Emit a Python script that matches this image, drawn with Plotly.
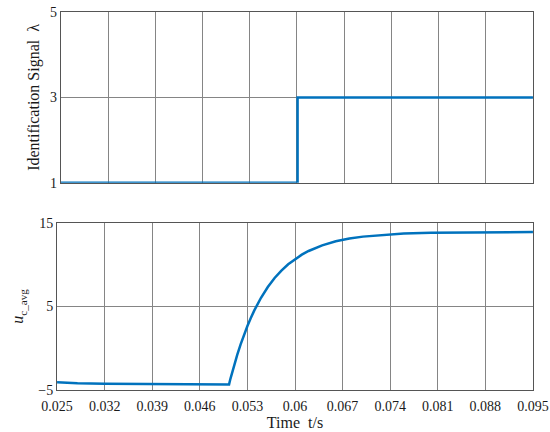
import plotly.graph_objects as go
from plotly.subplots import make_subplots

# Identification signal (step)
T_SIGNAL = [0.025, 0.0601, 0.0601, 0.095]
SIGNAL = [1, 1, 3, 3]

# Averaged capacitor voltage
T_U = [0.025, 0.028, 0.032, 0.036, 0.040, 0.045, 0.050, 0.0503, 0.0505, 0.051,
       0.0515, 0.052, 0.0525, 0.053, 0.0535, 0.054, 0.055, 0.056, 0.057, 0.058,
       0.059, 0.060, 0.061, 0.062, 0.063, 0.064, 0.066, 0.068, 0.070, 0.073,
       0.076, 0.080, 0.085, 0.090, 0.095]
U_AVG = [-4.08, -4.2, -4.25, -4.28, -4.3, -4.32, -4.33, -4.33, -3.66, -2.16,
         -0.79, 0.47, 1.61, 2.66, 3.62, 4.5, 6.04, 7.33, 8.41, 9.3,
         10.05, 10.68, 11.2, 11.64, 12.0, 12.32, 12.8, 13.13, 13.36, 13.58,
         13.72, 13.82, 13.87, 13.89, 13.9]

X_TICKS = [0.025, 0.032, 0.039, 0.046, 0.053, 0.06, 0.067, 0.074, 0.081, 0.088, 0.095]
X_LABELS = ["0.025", "0.032", "0.039", "0.046", "0.053", "0.06", "0.067",
            "0.074", "0.081", "0.088", "0.095"]

BLUE = "#0072BD"
GRID = "#858585"
FONT = "Liberation Serif, Times New Roman, serif"

fig = make_subplots(rows=2, cols=1)

fig.add_trace(go.Scatter(x=T_SIGNAL, y=SIGNAL, mode="lines",
                         line=dict(color=BLUE, width=2.5)), row=1, col=1)
fig.add_trace(go.Scatter(x=T_U, y=U_AVG, mode="lines",
                         line=dict(color=BLUE, width=2.5)), row=2, col=1)

axis_common = dict(showgrid=True, gridcolor=GRID, gridwidth=1, showline=True,
                   linecolor="#555555", linewidth=1, mirror=True, zeroline=False,
                   ticks="", automargin=False,
                   tickfont=dict(family=FONT, size=14, color="#1a1a1a"))

fig.update_xaxes(range=[0.02499, 0.09501], tickvals=X_TICKS, **axis_common)
fig.update_yaxes(**axis_common)

fig.update_layout(
    width=550, height=432,
    showlegend=False,
    plot_bgcolor="white",
    paper_bgcolor="white",
    margin=dict(l=57, r=17, t=12, b=42),
    font=dict(family=FONT, color="#1a1a1a"),
    xaxis=dict(domain=[0.008, 1], showticklabels=False),
    yaxis=dict(domain=[0.548, 1], range=[1, 5], tickvals=[1, 3, 5],
               title=dict(text="Identification Signal  λ", standoff=6,
                          font=dict(family=FONT, size=16))),
    xaxis2=dict(domain=[0, 1], ticktext=X_LABELS, ticklabeloverflow="allow",
                ticklabelstandoff=3,
                title=dict(text="Time  t/s", standoff=4,
                           font=dict(family=FONT, size=16))),
    yaxis2=dict(domain=[0, 0.442], range=[-5, 15], tickvals=[-5, 5, 15],
                ticktext=["\u22125", "5", "15"],
                title=dict(text="<i>u</i><sub>c_avg</sub>", standoff=10,
                           font=dict(family=FONT, size=16))),
)

fig.write_html("out.html", config={"displayModeBar": False},
               post_script="document.body.style.margin='0';")
